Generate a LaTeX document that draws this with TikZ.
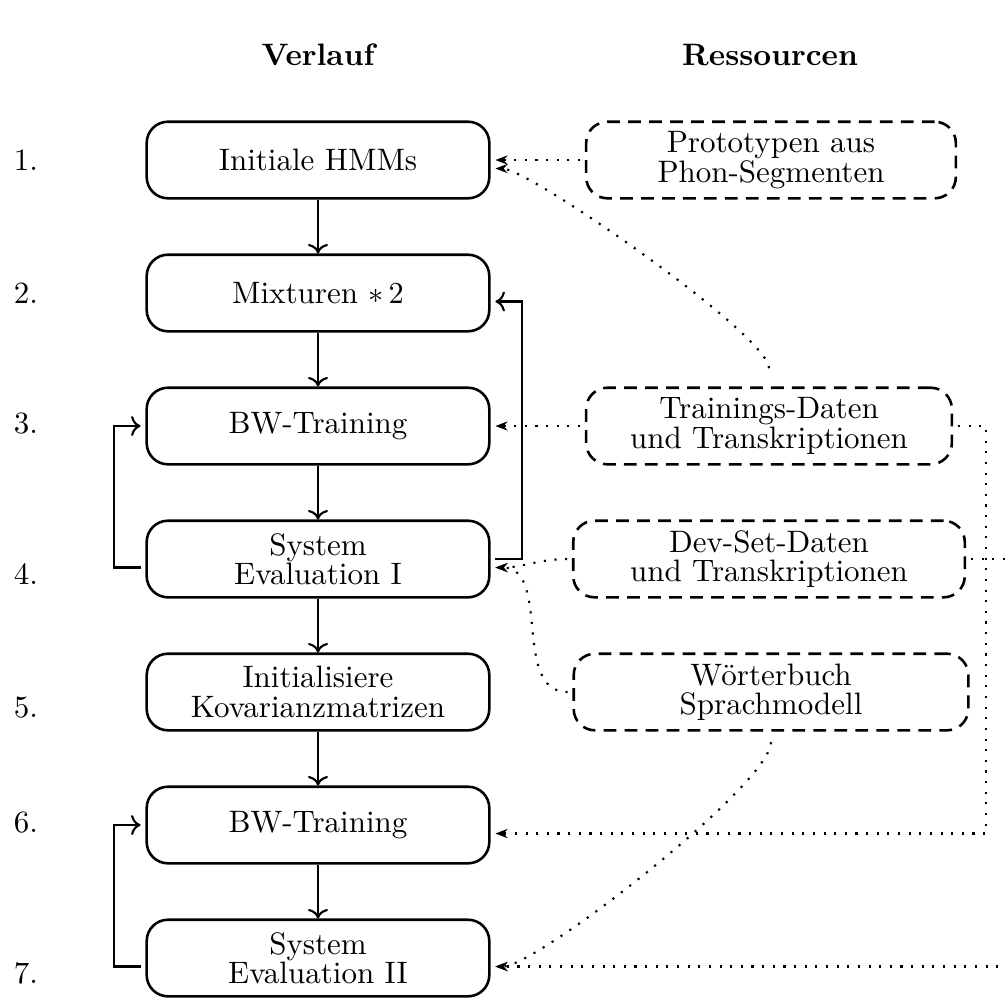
\documentclass[tikz,border=0pt]{standalone}
\usetikzlibrary{arrows.meta,calc}
\begin{document}
\begin{tikzpicture}[x=0.32895pt,y=-0.32895pt,
  box/.style={draw, line width=0.85pt, rounded corners=7pt, minimum height=25.2pt,
    inner xsep=2pt, inner ysep=1pt, align=center, outer xsep=2pt, outer ysep=0.4pt,
    font=\fontsize{10.2pt}{9.7pt}\selectfont},
  stepbox/.style={box, minimum width=112.7pt},
  resbox/.style={box, dash pattern=on 4.2pt off 2.7pt},
  num/.style={anchor=base, font=\fontsize{10.2pt}{12pt}\selectfont},
  head/.style={font=\fontsize{10.2pt}{12pt}\selectfont\bfseries},
  arr/.style={->, line width=0.7pt},
  dotarr/.style={-{Stealth[length=4pt,width=3pt]}, line width=0.7pt, dash pattern=on 0.7pt off 2.8pt},
]
\useasboundingbox (0,0) rectangle (1007,997);

% headers
\node[head] (h1) at (318,55) {Verlauf};
\node[head] (h2) at (770,55) {Ressourcen};

% process steps
\node[stepbox] (b1) at (318,160) {Initiale HMMs};
\node[stepbox] (b2) at (318,293) {Mixturen $*\,2$};
\node[stepbox] (b3) at (318,426) {BW-Training};
\node[stepbox] (b4) at (318,559) {System\\Evaluation I};
\node[stepbox] (b5) at (318,692) {Initialisiere\\Kovarianzmatrizen};
\node[stepbox] (b6) at (318,825) {BW-Training};
\node[stepbox] (b7) at (318,958) {System\\Evaluation II};

% numbers
\node[num] (n1) at (b1.base -| 26,0) {1.};
\node[num] (n2) at (b2.base -| 26,0) {2.};
\node[num] (n3) at (b3.base -| 26,0) {3.};
\node[num] (n4) at (b4.base -| 26,0) {4.};
\node[num] (n5) at (b5.base -| 26,0) {5.};
\node[num] (n6) at (b6.base -| 26,0) {6.};
\node[num] (n7) at (b7.base -| 26,0) {7.};

% resources
\node[resbox, minimum width=121.6pt] (r1) at (771,160) {Prototypen aus\\Phon-Segmenten};
\node[resbox, minimum width=120.3pt] (r3) at (769,426) {Trainings-Daten\\und Transkriptionen};
\node[resbox, minimum width=128.8pt] (r4) at (769,559) {Dev-Set-Daten\\und Transkriptionen};
\node[resbox, minimum width=129.8pt] (r5) at (771,692) {W\"orterbuch\\Sprachmodell};

% main flow
\draw[arr] (b1) -- (b2);
\draw[arr] (b2) -- (b3);
\draw[arr] (b3) -- (b4);
\draw[arr] (b4) -- (b5);
\draw[arr] (b5) -- (b6);
\draw[arr] (b6) -- (b7);

% loops
\draw[arr] ([yshift=-2.8pt]b4.west) -- ++(-27,0) |- (b3.west);
\draw[arr] ([yshift=-2.8pt]b7.west) -- ++(-27,0) |- (b6.west);
\draw[arr] (b4.east) -- ++(27,0) |- ([yshift=-2.8pt]b2.east);

% resource connectors
\draw[dotarr] (r1.west) -- (b1.east);
\draw[dotarr] ([yshift=6pt]r3.north) to[out=90,in=0,looseness=0.25] ([yshift=-2.8pt]b1.east);
\draw[dotarr] (r3.west) -- (b3.east);
\draw[dotarr] (r3.east) -- ++(28,0) |- ([yshift=-2.8pt]b6.east);
\draw[dotarr] (r4.west) to[out=180,in=0] ([yshift=-2.8pt]b4.east);
\draw[dotarr] (r5.west) to[out=180,in=0] ([yshift=-2.8pt]b4.east);
\draw[dotarr] (r4.east) -- ++(60,0) |- ([yshift=-2.8pt]b7.east);
\draw[dotarr] ([yshift=-3.5pt]r5.south) to[out=-90,in=0,looseness=0.3] ([yshift=-2.8pt]b7.east);
\end{tikzpicture}
\end{document}
